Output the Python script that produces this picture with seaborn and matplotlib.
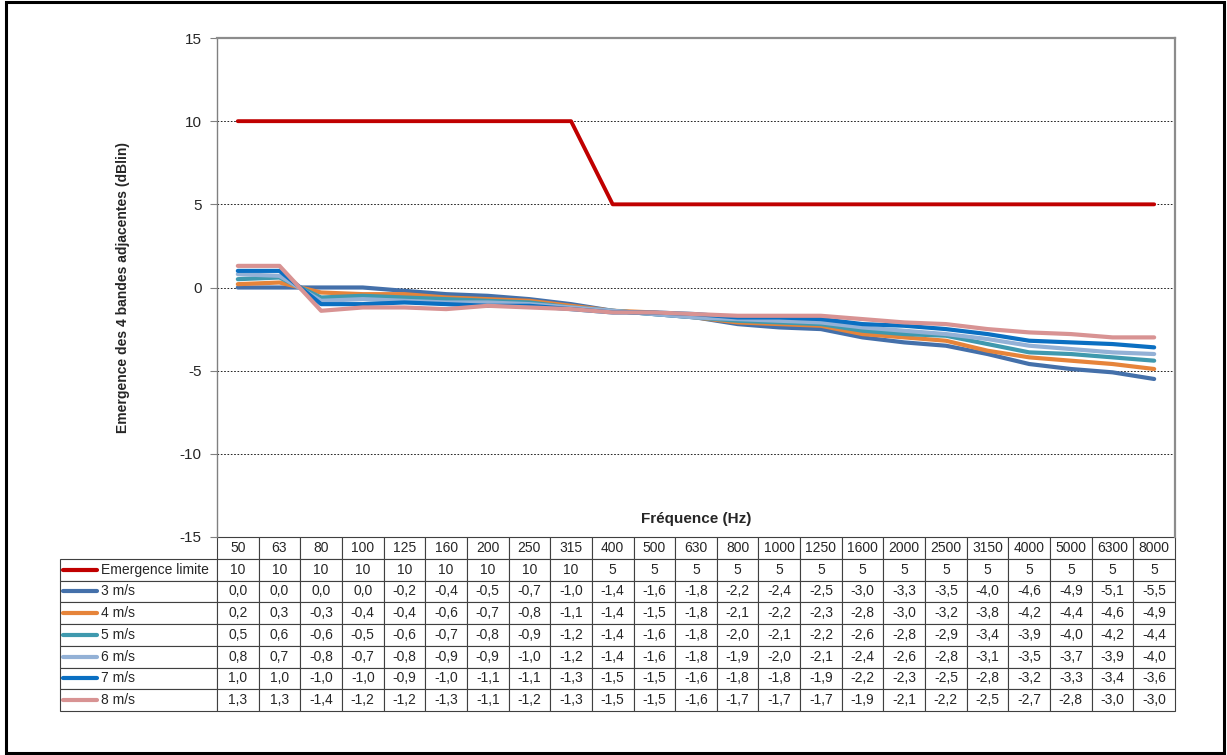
import pandas as pd
import seaborn as sns
import numpy as np
import matplotlib.pyplot as plt
from matplotlib.lines import Line2D
from matplotlib.patches import Rectangle

freqs = ['50', '63', '80', '100', '125', '160', '200', '250', '315', '400', '500', '630',
         '800', '1000', '1250', '1600', '2000', '2500', '3150', '4000', '5000', '6300', '8000']
limite = [10, 10, 10, 10, 10, 10, 10, 10, 10, 5, 5, 5, 5, 5, 5, 5, 5, 5, 5, 5, 5, 5, 5]
v3 = [0.0, 0.0, 0.0, 0.0, -0.2, -0.4, -0.5, -0.7, -1.0, -1.4, -1.6, -1.8, -2.2, -2.4, -2.5,
      -3.0, -3.3, -3.5, -4.0, -4.6, -4.9, -5.1, -5.5]
v4 = [0.2, 0.3, -0.3, -0.4, -0.4, -0.6, -0.7, -0.8, -1.1, -1.4, -1.5, -1.8, -2.1, -2.2, -2.3,
      -2.8, -3.0, -3.2, -3.8, -4.2, -4.4, -4.6, -4.9]
v5 = [0.5, 0.6, -0.6, -0.5, -0.6, -0.7, -0.8, -0.9, -1.2, -1.4, -1.6, -1.8, -2.0, -2.1, -2.2,
      -2.6, -2.8, -2.9, -3.4, -3.9, -4.0, -4.2, -4.4]
v6 = [0.8, 0.7, -0.8, -0.7, -0.8, -0.9, -0.9, -1.0, -1.2, -1.4, -1.6, -1.8, -1.9, -2.0, -2.1,
      -2.4, -2.6, -2.8, -3.1, -3.5, -3.7, -3.9, -4.0]
v7 = [1.0, 1.0, -1.0, -1.0, -0.9, -1.0, -1.1, -1.1, -1.3, -1.5, -1.5, -1.6, -1.8, -1.8, -1.9,
      -2.2, -2.3, -2.5, -2.8, -3.2, -3.3, -3.4, -3.6]
v8 = [1.3, 1.3, -1.4, -1.2, -1.2, -1.3, -1.1, -1.2, -1.3, -1.5, -1.5, -1.6, -1.7, -1.7, -1.7,
      -1.9, -2.1, -2.2, -2.5, -2.7, -2.8, -3.0, -3.0]

series_names = ['3 m/s', '4 m/s', '5 m/s', '6 m/s', '7 m/s', '8 m/s']
series_values = [v3, v4, v5, v6, v7, v8]
colors = {'Emergence limite': '#C00000',
          '3 m/s': '#4470AA', '4 m/s': '#E6843A', '5 m/s': '#3F99AE',
          '6 m/s': '#93B1D6', '7 m/s': '#0A6FC2', '8 m/s': '#D89393'}

rows = []
for name, vals in zip(series_names, series_values):
    for i, v in enumerate(vals):
        rows.append({'x': i, 'freq': freqs[i], 'serie': name, 'value': v})
df = pd.DataFrame(rows)
df_lim = pd.DataFrame({'x': np.arange(len(freqs)), 'value': limite})

sns.set_style('white')
plt.rcParams['font.family'] = ['Liberation Sans', 'DejaVu Sans']
plt.rcParams['axes.unicode_minus'] = False

fig = plt.figure(figsize=(12.27, 7.55), dpi=100)
W, H = 1227, 755
ax = fig.add_axes([217 / W, 1 - 537 / H, 958 / W, 499 / H])

sns.lineplot(data=df_lim, x='x', y='value', color=colors['Emergence limite'],
             linewidth=2.8, ax=ax, legend=False)
sns.lineplot(data=df, x='x', y='value', hue='serie', hue_order=series_names,
             palette=colors, linewidth=3, ax=ax, legend=False)

ax.set_xlim(-0.5, len(freqs) - 0.5)
ax.set_ylim(-15, 15)
ax.set_yticks([-15, -10, -5, 0, 5, 10, 15])
ax.set_xticks([])
ax.set_xlabel('')
ax.set_ylabel('Emergence des 4 bandes adjacentes (dBlin)', fontsize=10, fontweight='bold',
              labelpad=36)
ax.tick_params(axis='y', labelsize=11, length=5, color='#808080', direction='out', left=True,
               pad=6)
ax.yaxis.grid(True, linestyle=(0, (2, 2)), color='black', linewidth=0.6)
ax.set_axisbelow(True)
for s in ['top', 'right']:
    ax.spines[s].set_color('#8c8c8c')
    ax.spines[s].set_linewidth(1.6)
ax.spines['left'].set_color('#808080')
ax.spines['left'].set_linewidth(1)
ax.spines['bottom'].set_visible(False)

ax.text(0.5, 0.036, 'Fréquence (Hz)', transform=ax.transAxes, ha='center', va='center',
        fontsize=11, fontweight='bold')

# Tableau de données sous le graphique
def fmt(v):
    return ('%.1f' % v).replace('.', ',')

cell_text = [[''] + freqs, ['Emergence limite'] + [str(v) for v in limite]]
for name, vals in zip(series_names, series_values):
    cell_text.append([name] + [fmt(v) for v in vals])

label_w = 157 / 958
tab_h = (711 - 537) / 499
tab = ax.table(cellText=cell_text, cellLoc='center',
               colWidths=[label_w] + [1 / 23] * 23,
               bbox=[-label_w, -tab_h, 1 + label_w, tab_h])
tab.auto_set_font_size(False)
tab.set_fontsize(10)
for (r, c), cell in tab.get_celld().items():
    cell.set_edgecolor('#404040')
    cell.set_linewidth(0.8)
    if c == 0:
        if r == 0:
            cell.visible_edges = ''
        else:
            cell._loc = 'left'
            cell.PAD = 0.26
            cell.get_text().set_ha('left')

# petits traits de légende dans la première colonne
row_h = tab_h / 8
legend_names = ['Emergence limite'] + series_names
for k, name in enumerate(legend_names):
    yc = -(k + 1.5) * row_h
    ax.add_line(Line2D([-label_w + 3 / 958, -label_w + 37 / 958], [yc, yc],
                       transform=ax.transAxes, color=colors[name], linewidth=3,
                       clip_on=False))

# cadre extérieur
fig.add_artist(Rectangle((6 / W, 2 / H), 1218 / W, 751 / H, fill=False,
                         edgecolor='black', linewidth=2.2, transform=fig.transFigure))

fig.savefig('out.png', dpi=100)
